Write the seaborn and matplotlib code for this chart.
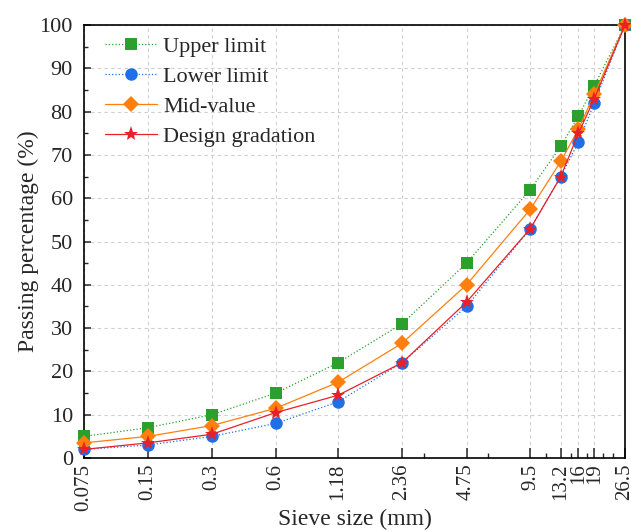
import numpy as np
import pandas as pd
import matplotlib
matplotlib.use("Agg")
import matplotlib.pyplot as plt
import seaborn as sns
from matplotlib.ticker import FixedLocator, NullFormatter

# Sieve sizes (mm) and passing percentages (%)
sieve_sizes = [0.075, 0.15, 0.3, 0.6, 1.18, 2.36, 4.75, 9.5, 13.2, 16, 19, 26.5]
sieve_labels = ["0.075", "0.15", "0.3", "0.6", "1.18", "2.36", "4.75", "9.5", "13.2", "16", "19", "26.5"]
upper_limit = [5, 7, 10, 15, 22, 31, 45, 62, 72, 79, 86, 100]
lower_limit = [2, 3, 5, 8, 13, 22, 35, 53, 65, 73, 82, 100]
mid_value = [3.5, 5, 7.5, 11.5, 17.5, 26.5, 40, 57.5, 68.5, 76, 84, 100]
design_gradation = [2, 3.5, 5.5, 10.5, 14.5, 22, 36, 53, 65, 75, 83, 100]
minor_x = [3.0, 6.0, 11.2, 14.7, 17.5, 20.9, 23.3]

sns.set_theme(style="white")
plt.rcParams["font.family"] = ["Liberation Serif", "DejaVu Serif"]

fig = plt.figure(figsize=(6.31, 5.32), dpi=100)
ax = fig.add_axes([0.1331, 0.139, 0.8574, 0.814])

series = [
    ("Upper limit", upper_limit, "#2ca02c", "s", ":", 8.5),
    ("Lower limit", lower_limit, "#1f6fe8", "o", ":", 9.0),
    ("Mid-value", mid_value, "#ff7f0e", "D", "-", 8.5),
    ("Design gradation", design_gradation, "#e8202a", "*", "-", 11.0),
]

for name, vals, color, marker, ls, ms in series:
    df = pd.DataFrame({"size": sieve_sizes, "pass": vals})
    sns.lineplot(data=df, x="size", y="pass", ax=ax, color=color, marker=marker,
                 linestyle=ls, linewidth=0.9, markersize=ms, markeredgewidth=0,
                 label=name, sort=False, clip_on=False, zorder=3)

ax.set_xscale("log")
ax.set_xlim(0.075, 26.5)
ax.set_ylim(0, 100)

ax.xaxis.set_major_locator(FixedLocator(sieve_sizes))
ax.set_xticks(sieve_sizes)
ax.set_xticklabels(sieve_labels, rotation=90, fontsize=15)
ax.xaxis.set_minor_locator(FixedLocator(minor_x))
ax.xaxis.set_minor_formatter(NullFormatter())

ax.set_yticks(np.arange(0, 101, 10))
ax.set_yticks(np.arange(5, 100, 10), minor=True)
ax.tick_params(axis="y", labelsize=16)

ax.tick_params(axis="x", which="major", direction="in", length=7, width=1.1, pad=4,
               bottom=True, top=False)
ax.tick_params(axis="x", which="minor", direction="in", length=3.5, width=1.0,
               bottom=True, top=False)
ax.tick_params(axis="y", which="major", direction="in", length=5, width=1.1, pad=8,
               left=True, right=False)
ax.tick_params(axis="y", which="minor", direction="in", length=3, width=1.0,
               left=True, right=False)

ax.grid(True, which="major", axis="both", linestyle=(0, (3, 3)), color="#cfcfcf",
        linewidth=0.8)
ax.set_axisbelow(True)

for sp in ax.spines.values():
    sp.set_visible(True)
    sp.set_color("black")
    sp.set_linewidth(1.2)

ax.set_xlabel("Sieve size (mm)", fontsize=17, labelpad=-1)
ax.set_ylabel("Passing percentage (%)", fontsize=17, labelpad=0)

leg = ax.legend(loc="upper left", bbox_to_anchor=(0.015, 1.005), frameon=False,
                fontsize=16, handlelength=2.3, handletextpad=0.3,
                labelspacing=0.43, borderaxespad=0.2)

fig.savefig("out.png", dpi=100)
